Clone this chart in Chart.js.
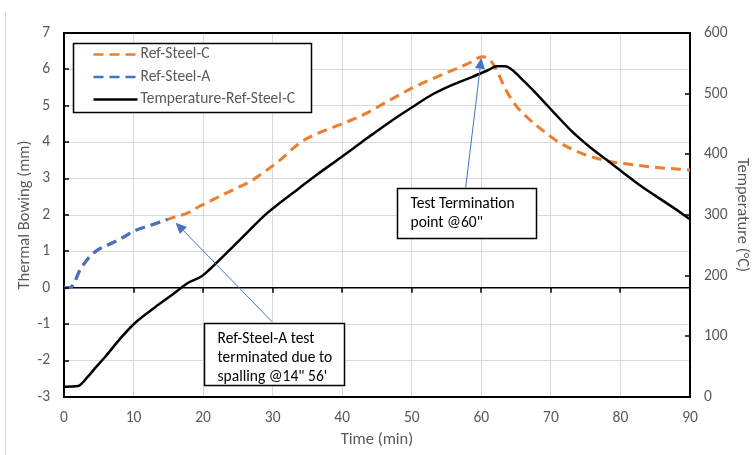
<!DOCTYPE html>
<html><head><meta charset="utf-8">
<script src="https://cdn.jsdelivr.net/npm/chart.js@4"></script>
<style>html,body{margin:0;padding:0;background:#fff}#wrap{width:753px;height:455px;position:relative}</style>
</head><body><div id="wrap"><canvas id="c" width="753" height="455"></canvas></div>
<script>
// ---- data ----
const seriesNames = ['Ref-Steel-C', 'Ref-Steel-A', 'Temperature-Ref-Steel-C'];
const timeC = [0, 1, 1.5, 2.3, 3, 3.7, 4.9, 6, 7.3, 8.5, 10.2, 11.5, 13.1, 15.5, 17.8, 19.5, 21.7, 24.3, 27, 29.2, 31, 33.9, 36.3, 39.7, 43.5, 46.4, 50.1, 55, 58, 60.2, 61.5, 62.4, 63.5, 65, 66.5, 68, 70, 71.3, 74.6, 78, 81.8, 85.6, 90];
const bowC  = [0, 0.02, 0.15, 0.49, 0.68, 0.85, 1.04, 1.15, 1.26, 1.38, 1.57, 1.66, 1.76, 1.92, 2.06, 2.24, 2.45, 2.69, 2.95, 3.24, 3.5, 3.98, 4.23, 4.48, 4.8, 5.11, 5.49, 5.91, 6.15, 6.35, 6.2, 5.9, 5.45, 5.0, 4.7, 4.45, 4.15, 3.98, 3.68, 3.49, 3.38, 3.3, 3.24];
const timeA = [0, 1, 1.5, 2.3, 3, 3.7, 4.9, 6, 7.3, 8.5, 10.2, 11.5, 13.1, 14.9];
const bowA  = [0, 0.02, 0.15, 0.5, 0.69, 0.86, 1.05, 1.15, 1.27, 1.39, 1.57, 1.66, 1.76, 1.88];
const timeT = [0, 2, 3.4, 4.5, 5.9, 8.3, 10.2, 13.1, 15.5, 17.8, 19.8, 21, 22, 24.3, 26.5, 29.2, 33.9, 36.3, 39.7, 43.5, 46.8, 50.1, 53, 55.5, 58.8, 61, 62.2, 63.4, 66, 68.4, 70.5, 73.1, 75.5, 78, 80.5, 82.8, 85, 87.5, 90];
const tempT = [17, 18, 33, 48, 66, 99, 122, 148, 168, 188, 199, 211, 222, 248, 273, 303, 345, 366, 394, 426, 453, 478, 499, 513, 528, 539, 545, 545, 522, 494, 468, 437, 413, 391, 369, 349, 332, 313, 293];
const note1 = ['Test Termination', 'point @60"'];
const note2 = ['Ref-Steel-A test', 'terminated due to', "spalling @14\" 56'"];
// annotation anchors in data units [time, mm]
const note1Box = [47.9, 2.75, 67.9, 1.37];
const note1Arrow = [57.75, 2.75, 60.0, 6.32];
const note2Box = [20.1, -0.96, 40.25, -2.66];
const note2Arrow = [29.9, -0.93, 16.06, 1.79];

const FONT = 'Carlito, "Liberation Sans", sans-serif';
const GRAY = '#595959';
const toXY = (xs, ys) => xs.map((v, i) => ({x: v, y: ys[i]}));

const overlay = {
  id: 'overlay',
  afterDatasetsDraw(chart) {
    const {ctx, chartArea: ca, scales: {x, y, y1}} = chart;
    ctx.save();
    // outer chart frame hint
    ctx.strokeStyle = '#d9d9d9'; ctx.lineWidth = 1;
    ctx.beginPath(); ctx.moveTo(5.5, 12); ctx.lineTo(5.5, 455); ctx.stroke();
    // inward tick marks
    ctx.strokeStyle = '#000'; ctx.lineWidth = 1.5;
    ctx.beginPath();
    for (let v = -2; v <= 6; v++) { const py = Math.round(y.getPixelForValue(v)); ctx.moveTo(ca.left, py); ctx.lineTo(ca.left + 5, py); }
    for (let v = 100; v <= 500; v += 100) { const py = Math.round(y1.getPixelForValue(v)); ctx.moveTo(ca.right, py); ctx.lineTo(ca.right - 5, py); }
    const y0 = y.getPixelForValue(0);
    for (let v = 10; v <= 80; v += 10) { const px = Math.round(x.getPixelForValue(v)); ctx.moveTo(px, y0); ctx.lineTo(px, y0 + 5); }
    ctx.stroke();

    // arrows
    const arrow = (a) => {
      const x1 = x.getPixelForValue(a[0]), yy1 = y.getPixelForValue(a[1]);
      const x2 = x.getPixelForValue(a[2]), yy2 = y.getPixelForValue(a[3]);
      const ang = Math.atan2(yy2 - yy1, x2 - x1);
      const L = 11, W = 5;
      const bx = x2 - L * Math.cos(ang), by = yy2 - L * Math.sin(ang);
      ctx.strokeStyle = '#4472C4'; ctx.fillStyle = '#4472C4'; ctx.lineWidth = 1;
      ctx.beginPath(); ctx.moveTo(x1, yy1); ctx.lineTo(bx, by); ctx.stroke();
      ctx.beginPath(); ctx.moveTo(x2, yy2);
      ctx.lineTo(bx + W * Math.sin(ang), by - W * Math.cos(ang));
      ctx.lineTo(bx - W * Math.sin(ang), by + W * Math.cos(ang));
      ctx.closePath(); ctx.fill();
    };
    arrow(note1Arrow); arrow(note2Arrow);

    // note boxes
    const box = (b, lines) => {
      const l = Math.round(x.getPixelForValue(b[0])) + 0.5, t = Math.round(y.getPixelForValue(b[1])) + 0.5;
      const r = Math.round(x.getPixelForValue(b[2])) + 0.5, bt = Math.round(y.getPixelForValue(b[3])) + 0.5;
      ctx.fillStyle = '#fff'; ctx.fillRect(l, t, r - l, bt - t);
      ctx.strokeStyle = '#000'; ctx.lineWidth = 1.5; ctx.strokeRect(l, t, r - l, bt - t);
      ctx.fillStyle = '#000'; ctx.font = '15.5px ' + FONT; ctx.textAlign = 'left'; ctx.textBaseline = 'middle';
      lines.forEach((s, i) => ctx.fillText(s, l + 13, t + 16 + i * 19));
    };
    box(note1Box, note1); box(note2Box, note2);

    // legend
    const lx = ca.left + 9.5, ly = ca.top + 10.5, lw = 238, lh = 69;
    ctx.fillStyle = '#fff'; ctx.fillRect(lx, ly, lw, lh);
    ctx.strokeStyle = '#000'; ctx.lineWidth = 1.5; ctx.strokeRect(lx, ly, lw, lh);
    chart.data.datasets.forEach((ds, i) => {
      const cy = ly + 11 + i * 22.5;
      ctx.strokeStyle = ds.borderColor; ctx.lineWidth = 2.5;
      ctx.setLineDash(ds.borderDash || []);
      ctx.beginPath(); ctx.moveTo(lx + 20, cy); ctx.lineTo(lx + 64, cy); ctx.stroke();
      ctx.setLineDash([]);
      ctx.fillStyle = GRAY; ctx.font = '15.5px ' + FONT; ctx.textAlign = 'left'; ctx.textBaseline = 'middle';
      ctx.fillText(ds.label, lx + 67, cy);
    });
    ctx.restore();
  }
};

new Chart(document.getElementById('c'), {
  type: 'line',
  data: {
    datasets: [
      {label: seriesNames[0], data: toXY(timeC, bowC), yAxisID: 'y', borderColor: '#ED7D31', borderWidth: 3, borderDash: [10, 6], pointRadius: 0, cubicInterpolationMode: 'monotone', order: 2},
      {label: seriesNames[1], data: toXY(timeA, bowA), yAxisID: 'y', borderColor: '#4472C4', borderWidth: 3, borderDash: [10, 6], pointRadius: 0, cubicInterpolationMode: 'monotone', order: 1},
      {label: seriesNames[2], data: toXY(timeT, tempT), yAxisID: 'y1', borderColor: '#000000', borderWidth: 2.5, pointRadius: 0, cubicInterpolationMode: 'monotone', order: 0}
    ]
  },
  options: {
    responsive: false, animation: false, devicePixelRatio: 1,
    layout: {padding: {top: 33, left: 0, right: 0, bottom: 0}},
    plugins: {legend: {display: false}, tooltip: {enabled: false}, title: {display: false}},
    scales: {
      x: {
        type: 'linear', position: 'bottom', min: 0, max: 90,
        ticks: {stepSize: 10, color: GRAY, font: {family: FONT, size: 15.5}, padding: 12},
        grid: {color: '#d9d9d9', lineWidth: 1, drawTicks: false},
        border: {display: true, color: '#000', width: 2},
        title: {display: true, text: 'Time (min)', color: GRAY, font: {family: FONT, size: 16.5}, padding: {top: 0, bottom: 5}},
        afterFit(s) { s.height = 58; }
      },
      y: {
        type: 'linear', position: 'left', min: -3, max: 7,
        ticks: {stepSize: 1, color: GRAY, font: {family: FONT, size: 15.5}, padding: 14},
        grid: {
          color: c => (c.tick && (c.tick.value === 0 || c.tick.value === 7)) ? '#000' : '#d9d9d9',
          lineWidth: c => (c.tick && c.tick.value === 7) ? 2 : (c.tick && c.tick.value === 0 ? 1.5 : 1),
          drawTicks: false
        },
        border: {display: true, color: '#000', width: 2},
        title: {display: true, text: 'Thermal Bowing (mm)', color: GRAY, font: {family: FONT, size: 16.5}, padding: {top: 15, bottom: 0}},
        afterFit(s) { s.width = 64; }
      },
      y1: {
        type: 'linear', position: 'right', min: 0, max: 600,
        ticks: {stepSize: 100, color: GRAY, font: {family: FONT, size: 15.5}, padding: 14},
        grid: {drawOnChartArea: false, drawTicks: false},
        border: {display: true, color: '#000', width: 2},
        title: {display: true, text: 'Temperature (°C)', color: GRAY, font: {family: FONT, size: 16.5}, padding: {top: 1, bottom: 0}},
        afterFit(s) { s.width = 63; }
      }
    }
  },
  plugins: [overlay]
});
</script></body></html>
